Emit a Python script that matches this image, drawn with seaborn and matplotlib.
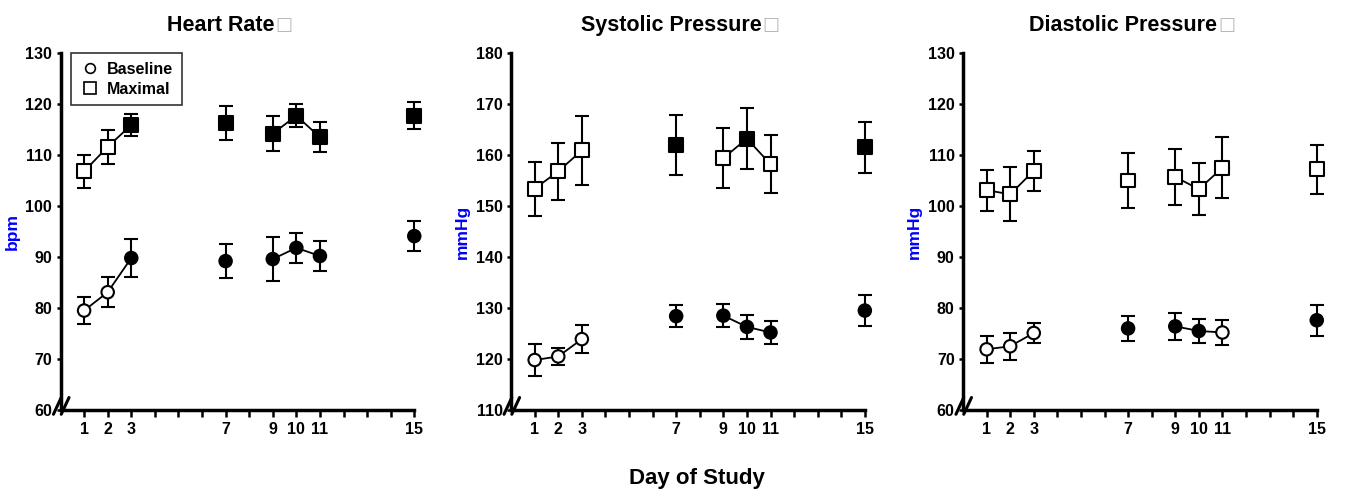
import matplotlib
matplotlib.use("Agg")
import matplotlib.pyplot as plt
import numpy as np
import pandas as pd
import seaborn as sns

days = [1, 2, 3, 7, 9, 10, 11, 15]

# heart rate (bpm)
hr_base = [79.5, 83.1, 89.8, 89.2, 89.6, 91.8, 90.2, 94.1]
hr_base_err = [2.6, 3.0, 3.7, 3.4, 4.4, 2.9, 3.0, 2.9]
hr_base_open = [1, 1, 0, 0, 0, 0, 0, 0]
hr_max = [106.8, 111.6, 115.9, 116.3, 114.2, 117.7, 113.5, 117.7]
hr_max_err = [3.2, 3.3, 2.2, 3.3, 3.5, 2.3, 2.9, 2.6]
hr_max_open = [1, 1, 0, 0, 0, 0, 0, 0]

# systolic pressure (mmHg)
sys_base = [119.8, 120.5, 123.9, 128.4, 128.5, 126.3, 125.2, 129.5]
sys_base_err = [3.1, 1.6, 2.8, 2.2, 2.3, 2.3, 2.2, 3.0]
sys_base_open = [1, 1, 1, 0, 0, 0, 0, 0]
sys_max = [153.4, 156.8, 160.9, 161.9, 159.4, 163.2, 158.2, 161.5]
sys_max_err = [5.3, 5.6, 6.7, 5.9, 5.9, 6.0, 5.7, 5.0]
sys_max_open = [1, 1, 1, 0, 1, 0, 1, 0]

# diastolic pressure (mmHg)
dia_base = [71.9, 72.5, 75.1, 76.0, 76.4, 75.5, 75.2, 77.6]
dia_base_err = [2.7, 2.6, 2.0, 2.4, 2.7, 2.3, 2.4, 3.0]
dia_base_open = [1, 1, 1, 0, 0, 0, 1, 0]
dia_max = [103.1, 102.3, 106.9, 105.0, 105.7, 103.3, 107.5, 107.2]
dia_max_err = [4.0, 5.3, 3.9, 5.3, 5.5, 5.1, 6.0, 4.8]
dia_max_open = [1, 1, 1, 1, 1, 1, 1, 1]

segments = {1: "a", 2: "a", 3: "a", 9: "b", 10: "b", 11: "b"}

panels = [
    ("Heart Rate", "bpm", (60, 130), hr_base, hr_base_err, hr_base_open, hr_max, hr_max_err, hr_max_open),
    ("Systolic Pressure", "mmHg", (110, 180), sys_base, sys_base_err, sys_base_open, sys_max, sys_max_err, sys_max_open),
    ("Diastolic Pressure", "mmHg", (60, 130), dia_base, dia_base_err, dia_base_open, dia_max, dia_max_err, dia_max_open),
]

sns.set_style("ticks")
plt.rcParams["font.family"] = ["Liberation Sans", "DejaVu Sans"]
plt.rcParams["font.weight"] = "bold"
for key in ("text.color", "axes.labelcolor", "xtick.color", "ytick.color", "axes.edgecolor"):
    plt.rcParams[key] = "black"

fig = plt.figure(figsize=(13.45, 4.96), dpi=100)
lefts = [0.045, 0.380, 0.716]
markers = {"Baseline": "o", "Maximal": "s"}
msize = {"Baseline": 80, "Maximal": 100}

for i, (title, ylab, ylim, b, be, bo, m, me, mo) in enumerate(panels):
    ax = fig.add_axes([lefts[i], 0.1734, 0.263, 0.7197])
    rows = []
    for grp, vals, errs, opens in (("Baseline", b, be, bo), ("Maximal", m, me, mo)):
        for d, v, e, o in zip(days, vals, errs, opens):
            rows.append({"day": d, "value": v, "err": e, "group": grp,
                         "fill": "open" if o else "filled",
                         "line": grp + segments[d] if d in segments else None})
    df = pd.DataFrame(rows)

    eb = ax.errorbar(df["day"], df["value"], yerr=df["err"], fmt="none", ecolor="black",
                     elinewidth=1.5, capsize=5, capthick=1.5, zorder=2)
    for art in eb.lines[1] + eb.lines[2]:
        art.set_clip_on(False)
    sns.lineplot(data=df.dropna(subset=["line"]), x="day", y="value", units="line",
                 estimator=None, color="black", linewidth=1.3, ax=ax, zorder=3)
    for grp in ("Baseline", "Maximal"):
        sub = df[df["group"] == grp]
        sns.scatterplot(data=sub, x="day", y="value", hue="fill",
                        palette={"open": "white", "filled": "black"},
                        marker=markers[grp], s=msize[grp], edgecolor="black",
                        linewidth=1.5, legend=False, ax=ax, zorder=4, clip_on=False)

    ax.set_xlim(0, 15)
    ax.set_ylim(*ylim)
    ax.set_xticks(range(1, 16))
    ax.set_xticklabels([str(t) if t in days else "" for t in range(1, 16)])
    ax.set_yticks(np.arange(ylim[0], ylim[1] + 1, 10))
    ax.tick_params(axis="x", labelsize=11.5, width=1.8, length=5, direction="out")
    ax.tick_params(axis="y", labelsize=11.5, width=1.8, length=3, pad=3, direction="out")
    for lbl in ax.get_xticklabels() + ax.get_yticklabels():
        lbl.set_fontweight("bold")
    for side in ("top", "right"):
        ax.spines[side].set_visible(False)
    for side in ("left", "bottom"):
        ax.spines[side].set_linewidth(2.5)
    ax.set_xlabel("")
    ax.set_ylabel(ylab, color="blue", fontsize=12.5, fontweight="bold", labelpad=4)
    t = ax.set_title(title, fontsize=15.5, fontweight="bold", pad=16, x=0.452)
    ax.annotate("\u25a1", xy=(1, 0.5), xycoords=t, xytext=(1, 0), textcoords="offset points",
                ha="left", va="center", fontsize=13, color="#b8b8b8",
                fontweight="normal", family="DejaVu Sans")

    # axis break mark at the origin
    for dx in (0.0, 0.022):
        ax.plot([-0.02 + dx, 0.002 + dx], [-0.012, 0.035], transform=ax.transAxes,
                color="black", linewidth=2.2, clip_on=False, zorder=6)

    if i == 0:
        h1 = plt.Line2D([], [], marker="o", linestyle="none", markerfacecolor="white",
                        markeredgecolor="black", markersize=7, markeredgewidth=1.2)
        h2 = plt.Line2D([], [], marker="s", linestyle="none", markerfacecolor="white",
                        markeredgecolor="black", markersize=8.5, markeredgewidth=1.2)
        leg = ax.legend([h1, h2], ["Baseline", "Maximal"], loc="upper left",
                        bbox_to_anchor=(0.03, 1.0), borderaxespad=0, frameon=True,
                        fancybox=False, prop={"weight": "bold", "size": 11.5},
                        handletextpad=0.5, borderpad=0.55, labelspacing=0.3,
                        handlelength=1.2)
        leg.get_frame().set_edgecolor("black")
        leg.get_frame().set_linewidth(1.2)

fig.text(0.518, 0.035, "Day of Study", ha="center", va="center",
         fontsize=16, fontweight="bold")

fig.savefig("out.png", dpi=100)
